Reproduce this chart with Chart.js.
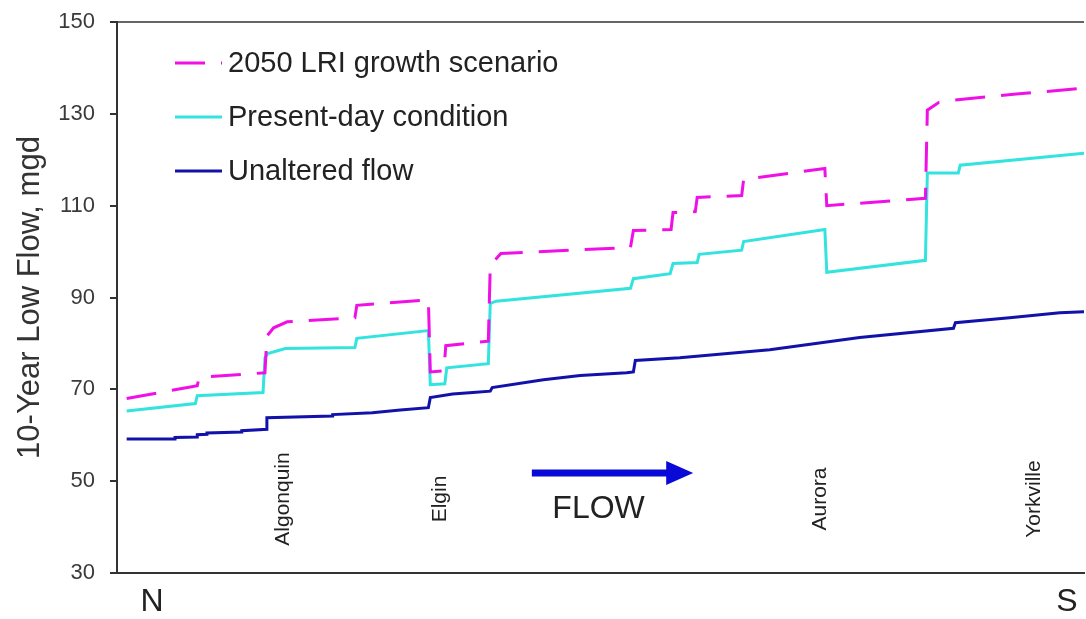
<!DOCTYPE html>
<html>
<head>
<meta charset="utf-8">
<script src="https://cdn.jsdelivr.net/npm/chart.js@4.4.1/dist/chart.umd.min.js"></script>
<style>
  html, body { margin: 0; padding: 0; background: #fff; }
  #wrap { width: 1086px; height: 619px; }
</style>
</head>
<body>
<div id="wrap"><canvas id="flowChart"></canvas></div>
<script>
// distance along the river (N -> S, 0..100) and 10-year low flow (mgd)
const unalteredMile = [1.0, 6.0, 6.0, 8.3, 8.3, 9.3, 9.3, 12.9, 12.9, 15.5, 15.5, 22.3, 22.3, 26.4, 29.3, 32.2, 32.4, 34.7, 36.8, 38.6, 38.8, 44.1, 47.9, 52.7, 53.4, 53.6, 58.2, 67.5, 76.8, 86.5, 86.7, 92.3, 97.5, 100];
const unalteredFlow = [59.2, 59.2, 59.5, 59.6, 60.1, 60.2, 60.5, 60.7, 61.0, 61.3, 63.8, 64.2, 64.5, 64.9, 65.5, 66.0, 68.2, 69.0, 69.3, 69.6, 70.4, 72.1, 73.0, 73.6, 73.8, 76.3, 76.9, 78.6, 81.3, 83.3, 84.5, 85.6, 86.7, 86.9];

const presentMile = [1.0, 8.1, 8.3, 15.1, 15.3, 15.6, 17.4, 24.6, 24.8, 32.2, 32.4, 33.9, 34.1, 38.4, 38.6, 39.2, 53.1, 53.4, 57.2, 57.5, 60.0, 60.2, 64.6, 64.8, 73.2, 73.4, 83.6, 83.8, 87.0, 87.2, 100];
const presentFlow = [65.3, 66.9, 68.6, 69.3, 76.9, 77.8, 78.9, 79.1, 81.1, 82.8, 71.0, 71.2, 74.7, 75.6, 88.7, 89.2, 92.0, 94.1, 95.2, 97.4, 97.6, 99.4, 100.3, 102.2, 104.8, 95.5, 98.1, 117.1, 117.1, 118.8, 121.4];

const growthMile = [1.0, 7.3, 8.3, 8.5, 15.3, 15.5, 16.2, 17.6, 24.6, 24.8, 32.2, 32.4, 33.8, 34.0, 38.4, 38.6, 39.7, 53.1, 53.4, 57.3, 57.5, 59.8, 60.0, 64.6, 64.8, 73.2, 73.4, 83.6, 83.8, 85.0, 86.5, 93.0, 100];
const growthFlow = [68.0, 70.4, 70.8, 72.6, 73.6, 81.6, 83.4, 84.7, 85.6, 88.3, 89.5, 73.8, 74.0, 79.5, 80.5, 97.0, 99.6, 100.9, 104.6, 104.8, 108.5, 108.7, 111.8, 112.2, 115.7, 118.1, 110.0, 111.6, 130.8, 132.5, 133.0, 134.3, 135.6];

const seriesNames = ["2050 LRI growth scenario", "Present-day condition", "Unaltered flow"];
const towns = ["Algonquin", "Elgin", "Aurora", "Yorkville"];
const townMile = [17.2, 33.4, 72.7, 94.9];
const endLabels = ["N", "S"];
const yTicks = [30, 50, 70, 90, 110, 130, 150];

const FONT = '"Liberation Sans", Arial, sans-serif';

function pts(xs, ys) {
  return xs.map((x, i) => ({ x: x, y: ys[i] }));
}

// legend, town names, flow arrow and N/S drawn on top
const extras = {
  id: "extras",
  afterDraw(chart) {
    const { ctx, chartArea: a, scales } = chart;
    const xs = scales.x, ys = scales.y;
    ctx.save();

    // top frame line
    ctx.strokeStyle = "#333";
    ctx.lineWidth = 1.5;
    ctx.beginPath();
    ctx.moveTo(a.left, a.top);
    ctx.lineTo(a.right, a.top);
    ctx.stroke();

    // legend inside plot
    ctx.font = "29px " + FONT;
    ctx.textBaseline = "middle";
    ctx.textAlign = "left";
    chart.data.datasets.forEach((ds, i) => {
      const y = 63 + i * 54;
      ctx.strokeStyle = ds.borderColor;
      ctx.lineWidth = 3;
      ctx.setLineDash(ds.borderDash || []);
      ctx.beginPath();
      ctx.moveTo(175, y);
      ctx.lineTo(222, y);
      ctx.stroke();
      ctx.setLineDash([]);
      ctx.fillStyle = "#222";
      ctx.fillText(ds.label, 228, y + 1);
    });

    // town names, rotated
    ctx.font = "21px " + FONT;
    ctx.fillStyle = "#222";
    towns.forEach((t, i) => {
      ctx.save();
      ctx.translate(xs.getPixelForValue(townMile[i]), 499);
      ctx.rotate(-Math.PI / 2);
      ctx.textAlign = "center";
      ctx.textBaseline = "middle";
      ctx.fillText(t, 0, 0);
      ctx.restore();
    });

    // flow arrow
    const ax0 = xs.getPixelForValue(42.9), ax1 = xs.getPixelForValue(57.0);
    const ay = ys.getPixelForValue(51.8);
    ctx.strokeStyle = "#0a0ad8";
    ctx.fillStyle = "#0a0ad8";
    ctx.lineWidth = 7;
    ctx.beginPath();
    ctx.moveTo(ax0, ay);
    ctx.lineTo(ax1, ay);
    ctx.stroke();
    ctx.beginPath();
    ctx.moveTo(ax1 - 2, ay - 12);
    ctx.lineTo(ax1 + 25, ay);
    ctx.lineTo(ax1 - 2, ay + 12);
    ctx.closePath();
    ctx.fill();

    ctx.fillStyle = "#222";
    ctx.font = "32px " + FONT;
    ctx.textAlign = "center";
    ctx.fillText("FLOW", xs.getPixelForValue(49.8), 509);

    // N / S under the axis
    ctx.font = "32px " + FONT;
    ctx.fillText(endLabels[0], 152, 602);
    ctx.fillText(endLabels[1], 1067, 602);

    ctx.restore();
  }
};

const ctx = document.getElementById("flowChart").getContext("2d");

const flowChart = new Chart(ctx, {
  type: "line",
  data: {
    datasets: [
      { label: seriesNames[0], data: pts(growthMile, growthFlow), borderColor: "#f010e6", borderWidth: 3, borderDash: [30, 16], pointRadius: 0, fill: false },
      { label: seriesNames[1], data: pts(presentMile, presentFlow), borderColor: "#33e3de", borderWidth: 3, pointRadius: 0, fill: false },
      { label: seriesNames[2], data: pts(unalteredMile, unalteredFlow), borderColor: "#1212aa", borderWidth: 3, pointRadius: 0, fill: false }
    ]
  },
  options: {
    responsive: true,
    maintainAspectRatio: false,
    animation: false,
    layout: { padding: { top: 22, right: 2, left: 0, bottom: 0 } },
    plugins: {
      legend: { display: false },
      tooltip: { enabled: false }
    },
    elements: { line: { tension: 0, borderJoinStyle: "miter" } },
    scales: {
      x: {
        type: "linear",
        min: 0,
        max: 100,
        ticks: { display: false },
        grid: { display: false, drawTicks: false },
        border: { color: "#333", width: 2 },
        afterFit: s => { s.height = 46; }
      },
      y: {
        min: 30,
        max: 150,
        afterBuildTicks: s => { s.ticks = yTicks.map(v => ({ value: v })); },
        ticks: { color: "#3a3a3a", font: { family: FONT, size: 22 }, padding: 15 },
        grid: { drawOnChartArea: false, tickLength: 7, color: "#333", lineWidth: 2 },
        border: { color: "#333", width: 2 },
        title: { display: true, text: "10-Year Low Flow, mgd", color: "#333", font: { family: FONT, size: 31 }, padding: { top: 12, bottom: 0 } },
        afterFit: s => { s.width = 117; s.paddingTop = 0; s.paddingBottom = 0; }
      }
    }
  },
  plugins: [extras]
});
</script>
</body>
</html>
